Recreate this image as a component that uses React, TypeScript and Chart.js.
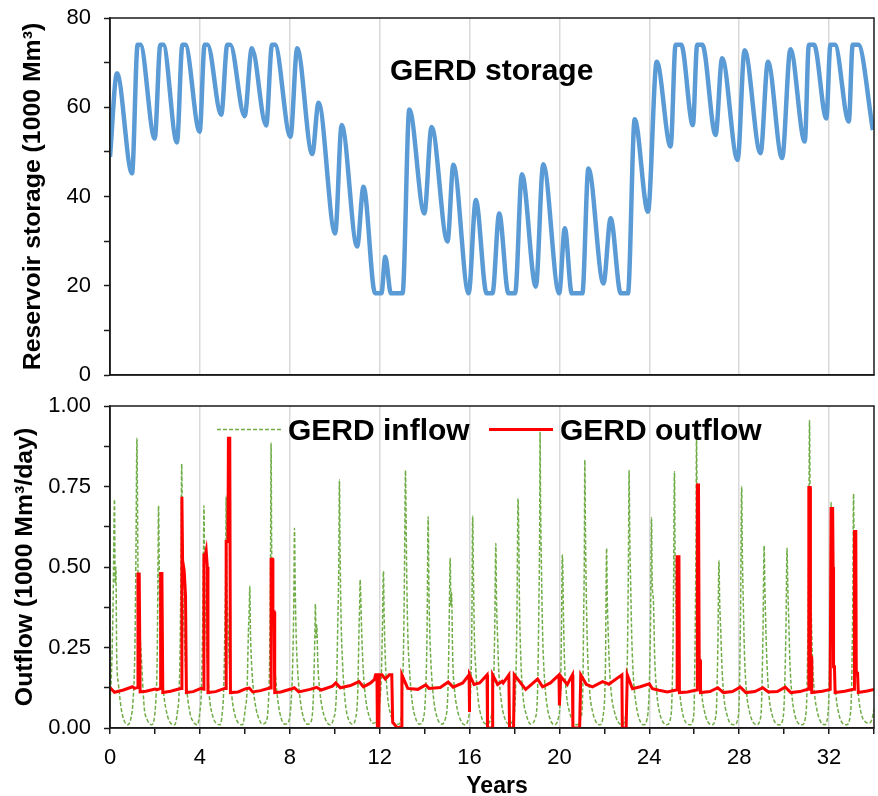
import React, { useEffect, useRef } from 'react';
import { Chart, registerables } from 'chart.js';

Chart.register(...registerables);

const FONT = "'Liberation Sans', Arial, Helvetica, sans-serif";

// ---- Text ----
const storageLabel = 'GERD storage';
const storageAxisTitle = 'Reservoir storage (1000 Mm³)';
const flowAxisTitle = 'Outflow (1000 Mm³/day)';
const xAxisTitle = 'Years';
const inflowLabel = 'GERD inflow';
const outflowLabel = 'GERD outflow';

// ---- Tick labels ----
const yearTickLabels = [0, 4, 8, 12, 16, 20, 24, 28, 32];
const storageTickLabels = [0, 20, 40, 60, 80];
const flowTickLabels = [0, 0.25, 0.5, 0.75, 1.0];

// ---- Storage (year, 1000 Mm3) ----
const storagePoints: [number, number][] = [
  [0, 48.9], [0.31, 67.6], [0.98, 45.2], [1.23, 74], [1.35, 74], [1.99, 53.0],
  [2.24, 74], [2.37, 74], [2.98, 52.1], [3.22, 74], [3.35, 74], [3.99, 54.5],
  [4.21, 74], [4.34, 74], [4.95, 58.3], [5.22, 74], [5.35, 74], [5.99, 58.0],
  [6.31, 73.2], [6.95, 55.9], [7.21, 74], [7.34, 74], [8.03, 53.4], [8.33, 73.2],
  [9.0, 49.5], [9.28, 61.0], [10.02, 31.7], [10.31, 56.0], [11.0, 28.8], [11.28, 42.2],
  [11.8, 18.3], [12.08, 18.3], [12.25, 26.5], [12.5, 18.3], [13.02, 18.3], [13.32, 59.5],
  [13.99, 36.2], [14.31, 55.6], [15.02, 29.9], [15.28, 47.1], [15.96, 18.3], [16.28, 39.2],
  [16.76, 18.3], [17.02, 18.3], [17.32, 36.2], [17.73, 18.3], [18.03, 18.3], [18.33, 45.0],
  [18.95, 19.8], [19.28, 47.2], [19.99, 18.3], [20.24, 32.9], [20.55, 18.3], [21.02, 18.3],
  [21.29, 46.3], [21.96, 20.5], [22.28, 35.1], [22.73, 18.3], [23.05, 18.3], [23.35, 57.3],
  [23.94, 36.6], [24.33, 70.2], [24.95, 51.2], [25.17, 74], [25.42, 74], [25.94, 56.0],
  [26.13, 74], [26.36, 74], [26.95, 53.8], [27.24, 71.0], [27.93, 48.2], [28.24, 72.8],
  [28.95, 49.7], [29.28, 70.2], [29.91, 48.6], [30.28, 73.0], [30.92, 52.3], [31.1, 74],
  [31.33, 74], [31.88, 57.5], [32.06, 74], [32.26, 74], [32.88, 56.8], [33.05, 74],
  [33.3, 74], [33.95, 54.9],
];

// ---- Inflow (year, 1000 Mm3/day) ----
const inflowPoints: [number, number][] = [
  [0, 0.08], [0.08, 0.2], [0.14, 0.4], [0.2, 0.71], [0.23, 0.45], [0.26, 0.5], [0.3, 0.22], [0.37, 0.14], [0.5, 0.06], [0.62, 0.025], [0.78, 0.01], [0.93, 0.03],
  [1.03, 0.09], [1.1, 0.22], [1.15, 0.5], [1.2, 0.9], [1.22, 0.74], [1.25, 0.45], [1.3, 0.32], [1.37, 0.25], [1.52, 0.066], [1.66, 0.025], [1.85, 0.01], [1.99, 0.04],
  [2.05, 0.1], [2.1, 0.22], [2.13, 0.45], [2.16, 0.69], [2.19, 0.5], [2.22, 0.33], [2.28, 0.2], [2.4, 0.1], [2.55, 0.04], [2.7, 0.015], [2.88, 0.01], [3.0, 0.05],
  [3.08, 0.12], [3.13, 0.3], [3.17, 0.6], [3.19, 0.82], [3.21, 0.72], [3.24, 0.45], [3.3, 0.3], [3.4, 0.14], [3.55, 0.05], [3.7, 0.02], [3.88, 0.01], [4.0, 0.05],
  [4.07, 0.12], [4.12, 0.3], [4.16, 0.55], [4.18, 0.69], [4.21, 0.5], [4.25, 0.35], [4.3, 0.25], [4.42, 0.1], [4.56, 0.04], [4.72, 0.015], [4.9, 0.01], [5.0, 0.05],
  [5.06, 0.12], [5.11, 0.3], [5.15, 0.5], [5.17, 0.72], [5.2, 0.45], [5.24, 0.35], [5.3, 0.22], [5.42, 0.1], [5.56, 0.04], [5.72, 0.015], [5.9, 0.01], [6.02, 0.06],
  [6.1, 0.12], [6.16, 0.3], [6.2, 0.38], [6.22, 0.44], [6.25, 0.3], [6.3, 0.2], [6.38, 0.12], [6.5, 0.06], [6.62, 0.03], [6.78, 0.012], [6.95, 0.02], [7.05, 0.08],
  [7.1, 0.2], [7.14, 0.45], [7.17, 0.885], [7.19, 0.6], [7.22, 0.45], [7.27, 0.3], [7.35, 0.18], [7.48, 0.08], [7.62, 0.03], [7.78, 0.012], [7.95, 0.02], [8.06, 0.08],
  [8.13, 0.2], [8.18, 0.4], [8.21, 0.62], [8.24, 0.45], [8.28, 0.3], [8.35, 0.18], [8.48, 0.08], [8.62, 0.03], [8.78, 0.012], [8.95, 0.02], [9.04, 0.08],
  [9.09, 0.2], [9.12, 0.3], [9.14, 0.385], [9.17, 0.28], [9.2, 0.32], [9.25, 0.2], [9.33, 0.12], [9.45, 0.06], [9.6, 0.025], [9.78, 0.01], [9.95, 0.03], [10.07, 0.1],
  [10.13, 0.3], [10.18, 0.5], [10.21, 0.77], [10.24, 0.55], [10.28, 0.35], [10.35, 0.2], [10.47, 0.08], [10.6, 0.03], [10.78, 0.012], [10.93, 0.03], [11.03, 0.12],
  [11.08, 0.3], [11.11, 0.38], [11.13, 0.46], [11.15, 0.43], [11.2, 0.3], [11.27, 0.18], [11.38, 0.09], [11.52, 0.04], [11.7, 0.015], [11.88, 0.02], [12.0, 0.08],
  [12.07, 0.15], [12.12, 0.3], [12.17, 0.487], [12.2, 0.35], [12.26, 0.2], [12.35, 0.1], [12.5, 0.04], [12.66, 0.015], [12.85, 0.012], [12.98, 0.05],
  [13.05, 0.2], [13.1, 0.45], [13.13, 0.7], [13.15, 0.8], [13.17, 0.7], [13.2, 0.5], [13.25, 0.3], [13.33, 0.18], [13.45, 0.08], [13.6, 0.03], [13.78, 0.012], [13.95, 0.03],
  [14.05, 0.12], [14.11, 0.3], [14.16, 0.656], [14.19, 0.45], [14.23, 0.3], [14.3, 0.18], [14.42, 0.08], [14.57, 0.03], [14.75, 0.012], [14.93, 0.03],
  [15.04, 0.12], [15.09, 0.3], [15.14, 0.527], [15.17, 0.38], [15.2, 0.42], [15.25, 0.22], [15.33, 0.12], [15.45, 0.06], [15.6, 0.025], [15.78, 0.01], [15.95, 0.03],
  [16.05, 0.12], [16.1, 0.3], [16.14, 0.658], [16.17, 0.5], [16.21, 0.3], [16.28, 0.18], [16.4, 0.08], [16.55, 0.03], [16.75, 0.012], [16.95, 0.03],
  [17.06, 0.12], [17.12, 0.3], [17.17, 0.573], [17.2, 0.4], [17.24, 0.3], [17.3, 0.18], [17.42, 0.08], [17.57, 0.03], [17.75, 0.012], [17.95, 0.03],
  [18.05, 0.12], [18.11, 0.35], [18.16, 0.713], [18.19, 0.6], [18.22, 0.4], [18.28, 0.22], [18.38, 0.1], [18.53, 0.04], [18.72, 0.012], [18.92, 0.03],
  [19.03, 0.12], [19.09, 0.4], [19.12, 0.6], [19.14, 0.92], [19.16, 0.72], [19.2, 0.5], [19.25, 0.3], [19.33, 0.16], [19.45, 0.07], [19.6, 0.025], [19.78, 0.01], [19.95, 0.03],
  [20.05, 0.12], [20.09, 0.3], [20.13, 0.537], [20.15, 0.5], [20.18, 0.35], [20.23, 0.2], [20.32, 0.1], [20.45, 0.05], [20.6, 0.02], [20.78, 0.01], [20.95, 0.03],
  [21.04, 0.12], [21.08, 0.35], [21.11, 0.55], [21.13, 0.832], [21.16, 0.6], [21.2, 0.4], [21.26, 0.22], [21.35, 0.11], [21.48, 0.05], [21.62, 0.02], [21.8, 0.01], [21.95, 0.04],
  [22.05, 0.2], [22.1, 0.558], [22.13, 0.4], [22.17, 0.3], [22.22, 0.2], [22.32, 0.1], [22.45, 0.05], [22.6, 0.02], [22.78, 0.01], [22.95, 0.04],
  [23.04, 0.3], [23.08, 0.6], [23.1, 0.8], [23.13, 0.6], [23.17, 0.45], [23.22, 0.28], [23.3, 0.15], [23.42, 0.07], [23.57, 0.025], [23.75, 0.01], [23.93, 0.04],
  [24.05, 0.3], [24.1, 0.653], [24.13, 0.45], [24.18, 0.4], [24.24, 0.22], [24.32, 0.12], [24.45, 0.05], [24.6, 0.02], [24.78, 0.01], [24.97, 0.04],
  [25.07, 0.35], [25.12, 0.796], [25.15, 0.5], [25.2, 0.35], [25.27, 0.2], [25.37, 0.1], [25.5, 0.04], [25.65, 0.015], [25.82, 0.01], [25.98, 0.04],
  [26.05, 0.35], [26.08, 0.6], [26.1, 0.912], [26.13, 0.65], [26.17, 0.4], [26.24, 0.22], [26.33, 0.11], [26.46, 0.05], [26.6, 0.02], [26.78, 0.01], [26.97, 0.04],
  [27.05, 0.25], [27.1, 0.52], [27.13, 0.4], [27.18, 0.3], [27.24, 0.18], [27.33, 0.09], [27.46, 0.04], [27.6, 0.015], [27.78, 0.01], [27.97, 0.04],
  [28.06, 0.35], [28.11, 0.75], [28.14, 0.55], [28.18, 0.4], [28.24, 0.22], [28.33, 0.11], [28.46, 0.05], [28.6, 0.02], [28.78, 0.01], [28.97, 0.04],
  [29.06, 0.3], [29.11, 0.566], [29.14, 0.45], [29.19, 0.3], [29.25, 0.18], [29.34, 0.09], [29.47, 0.04], [29.62, 0.015], [29.8, 0.01], [29.97, 0.04],
  [30.08, 0.3], [30.13, 0.558], [30.16, 0.45], [30.2, 0.35], [30.26, 0.2], [30.35, 0.1], [30.48, 0.04], [30.63, 0.015], [30.8, 0.01], [30.98, 0.05],
  [31.06, 0.3], [31.1, 0.6], [31.13, 0.955], [31.16, 0.65], [31.2, 0.4], [31.26, 0.22], [31.35, 0.11], [31.48, 0.05], [31.62, 0.02], [31.8, 0.01], [31.96, 0.05],
  [32.05, 0.35], [32.09, 0.7], [32.12, 0.5], [32.16, 0.35], [32.22, 0.2], [32.31, 0.1], [32.45, 0.04], [32.6, 0.015], [32.78, 0.01], [32.96, 0.05],
  [33.05, 0.35], [33.09, 0.727], [33.12, 0.5], [33.16, 0.35], [33.22, 0.2], [33.31, 0.1], [33.45, 0.04], [33.6, 0.02], [33.78, 0.015], [33.92, 0.03], [34.0, 0.06],
];

// ---- Outflow (year, 1000 Mm3/day) ----
const outflowPoints: [number, number][] = [
  [0, 0.125], [0.05, 0.122], [0.2, 0.111], [0.6, 0.118], [1.0, 0.128], [1.1, 0.123], [1.24, 0.126],
  [1.245, 0.478], [1.3, 0.478], [1.34, 0.112], [1.6, 0.114], [2.0, 0.121], [2.1, 0.119], [2.25, 0.123],
  [2.255, 0.48], [2.31, 0.48], [2.35, 0.11], [2.7, 0.114], [3.1, 0.122], [3.195, 0.123],
  [3.2, 0.718], [3.23, 0.52], [3.3, 0.49], [3.36, 0.413], [3.4, 0.11], [3.7, 0.113], [4.05, 0.123], [4.175, 0.12],
  [4.18, 0.537], [4.24, 0.537], [4.28, 0.551], [4.33, 0.5], [4.36, 0.11], [4.7, 0.113], [5.1, 0.123], [5.165, 0.123],
  [5.17, 0.579], [5.25, 0.579], [5.27, 0.9], [5.33, 0.9], [5.36, 0.11], [5.7, 0.112], [6.05, 0.122], [6.2, 0.124],
  [6.35, 0.112], [6.7, 0.116], [7.1, 0.124], [7.165, 0.124],
  [7.17, 0.524], [7.24, 0.524], [7.25, 0.361], [7.3, 0.361], [7.33, 0.11], [7.6, 0.112], [8.05, 0.121], [8.2, 0.125],
  [8.4, 0.112], [8.9, 0.12], [9.2, 0.126], [9.4, 0.118], [9.9, 0.13], [10.05, 0.14], [10.25, 0.125], [10.7, 0.132],
  [11.08, 0.144], [11.28, 0.128], [11.6, 0.14], [11.77, 0.151], [11.82, 0.165], [11.88, 0.165], [11.9, 0.0],
  [11.93, 0.16], [11.96, 0.0], [11.99, 0.165], [12.1, 0.165], [12.25, 0.152], [12.43, 0.165], [12.54, 0.165],
  [12.58, 0.017], [12.8, 0.0], [12.97, 0.005], [12.99, 0.165], [13.25, 0.123], [13.7, 0.12], [14.05, 0.134],
  [14.2, 0.123], [14.7, 0.126], [15.05, 0.143], [15.27, 0.127], [15.7, 0.14], [15.98, 0.165], [15.99, 0.05],
  [16.01, 0.165], [16.2, 0.135], [16.45, 0.14], [16.78, 0.165], [16.8, 0.0], [17.0, 0.0], [17.03, 0.165],
  [17.25, 0.135], [17.45, 0.145], [17.5, 0.14], [17.75, 0.165], [17.78, 0.0], [17.96, 0.0], [17.99, 0.165],
  [18.5, 0.12], [19.03, 0.152], [19.25, 0.128], [19.6, 0.14], [19.98, 0.165], [20.0, 0.07], [20.06, 0.16],
  [20.35, 0.135], [20.58, 0.165], [20.6, 0.0], [20.9, 0.0], [20.95, 0.165], [21.2, 0.135], [21.47, 0.128],
  [21.92, 0.144], [22.07, 0.14], [22.2, 0.136], [22.78, 0.165], [22.8, 0.0], [22.97, 0.0], [23.02, 0.165],
  [23.25, 0.122], [23.6, 0.128], [24.0, 0.137], [24.14, 0.122], [24.43, 0.117], [24.8, 0.112], [25.2, 0.118], [25.235, 0.118],
  [25.24, 0.532], [25.32, 0.532], [25.34, 0.11], [25.7, 0.112], [26.1, 0.118], [26.135, 0.118],
  [26.14, 0.755], [26.19, 0.755], [26.22, 0.21], [26.26, 0.21], [26.28, 0.11], [26.7, 0.113], [27.05, 0.125],
  [27.3, 0.11], [27.7, 0.113], [28.05, 0.127], [28.3, 0.11], [28.7, 0.113], [29.05, 0.125], [29.3, 0.112],
  [29.7, 0.113], [30.05, 0.127], [30.3, 0.11], [30.7, 0.113], [31.05, 0.12], [31.095, 0.12],
  [31.1, 0.747], [31.16, 0.747], [31.17, 0.22], [31.21, 0.22], [31.23, 0.11], [31.7, 0.114], [32.05, 0.12], [32.085, 0.12],
  [32.09, 0.682], [32.16, 0.682], [32.18, 0.5], [32.2, 0.19], [32.24, 0.19], [32.27, 0.11], [32.7, 0.114], [33.08, 0.12], [33.125, 0.12],
  [33.13, 0.61], [33.19, 0.61], [33.21, 0.17], [33.27, 0.17], [33.3, 0.11], [33.7, 0.115], [34.0, 0.12],
];

const toXY = (pts: [number, number][]) => pts.map(([x, y]) => ({ x, y }));
const isIn = (list: number[], v: number) => list.some((t) => Math.abs(t - v) < 1e-9);

const GRID = '#d9d9d9';
const AXIS = '#1a1a1a';
const GREEN = '#70AD47';
const RED = '#FF0000';
const BLUE = '#5B9BD5';

function xGridColor(ctx: any) {
  const v = ctx.tick ? ctx.tick.value : 0;
  return v > 0 && v < 34 && Math.abs(v % 4) < 1e-9 ? GRID : 'rgba(0,0,0,0)';
}

function noVPad(s: any) {
  s.width = 110;
  s.paddingTop = 0;
  s.paddingBottom = 0;
}

function frame(ctx: CanvasRenderingContext2D, a: any) {
  ctx.strokeStyle = AXIS;
  ctx.lineWidth = 1.5;
  ctx.strokeRect(a.left, a.top, a.right - a.left, a.bottom - a.top);
}

function rotatedText(ctx: CanvasRenderingContext2D, text: string, cx: number, cy: number, font: string) {
  ctx.save();
  ctx.translate(cx, cy);
  ctx.rotate(-Math.PI / 2);
  ctx.font = font;
  ctx.fillStyle = '#000';
  ctx.textAlign = 'center';
  ctx.textBaseline = 'middle';
  ctx.fillText(text, 0, 0);
  ctx.restore();
}

const topDecor = {
  id: 'topDecor',
  afterDraw(chart: any) {
    const { ctx, chartArea } = chart;
    ctx.save();
    frame(ctx, chartArea);
    ctx.fillStyle = '#000';
    ctx.font = `bold 30px ${FONT}`;
    ctx.textAlign = 'left';
    ctx.textBaseline = 'alphabetic';
    ctx.fillText(storageLabel, 390, 80);
    ctx.restore();
    rotatedText(ctx, storageAxisTitle, 33, 196.5, `bold 24.8px ${FONT}`);
  },
};

const bottomDecor = {
  id: 'bottomDecor',
  afterDraw(chart: any) {
    const { ctx, chartArea } = chart;
    ctx.save();
    frame(ctx, chartArea);
    // legend
    ctx.strokeStyle = GREEN;
    ctx.lineWidth = 1.5;
    ctx.setLineDash([4, 2]);
    ctx.beginPath();
    ctx.moveTo(217, 39.5);
    ctx.lineTo(282, 39.5);
    ctx.stroke();
    ctx.setLineDash([]);
    ctx.strokeStyle = RED;
    ctx.lineWidth = 3;
    ctx.beginPath();
    ctx.moveTo(489, 39.5);
    ctx.lineTo(553, 39.5);
    ctx.stroke();
    ctx.fillStyle = '#000';
    ctx.font = `bold 30px ${FONT}`;
    ctx.textAlign = 'left';
    ctx.textBaseline = 'alphabetic';
    ctx.fillText(inflowLabel, 288, 50);
    ctx.fillText(outflowLabel, 560, 50);
    ctx.font = `bold 23px ${FONT}`;
    ctx.textAlign = 'center';
    ctx.fillText(xAxisTitle, 497, 403);
    ctx.restore();
    rotatedText(ctx, flowAxisTitle, 25, 177, `bold 24.8px ${FONT}`);
  },
};

export default function App() {
  const topRef = useRef<HTMLCanvasElement | null>(null);
  const botRef = useRef<HTMLCanvasElement | null>(null);

  useEffect(() => {
    Chart.defaults.font.family = FONT;
    Chart.defaults.color = '#000';

    const tickFont = { family: FONT, size: 22 };

    const top = new Chart(topRef.current as HTMLCanvasElement, {
      type: 'line',
      data: {
        datasets: [
          {
            label: storageLabel,
            data: toXY(storagePoints),
            borderColor: BLUE,
            borderWidth: 4.5,
            pointRadius: 0,
            fill: false,
            cubicInterpolationMode: 'monotone',
          },
        ],
      },
      options: {
        responsive: false,
        animation: false,
        events: [],
        layout: { padding: { top: 18, right: 4, left: 0, bottom: 0 }, autoPadding: false } as any,
        plugins: { legend: { display: false }, tooltip: { enabled: false } },
        scales: {
          x: {
            type: 'linear',
            min: 0,
            max: 34,
            ticks: { stepSize: 2, display: false, autoSkip: false },
            grid: { color: xGridColor, lineWidth: 1.5, drawTicks: false },
            border: { color: AXIS, width: 1.5 },
            afterFit: (s: any) => { s.height = 15; s.paddingLeft = 0; s.paddingRight = 0; },
          },
          y: {
            min: 0,
            max: 80,
            ticks: {
              stepSize: 10,
              autoSkip: false,
              font: tickFont,
              color: '#000',
              padding: 13,
              callback: (v: any) => (isIn(storageTickLabels, Number(v)) ? String(v) : ''),
            },
            grid: { drawOnChartArea: false, drawTicks: true, tickLength: 6, tickColor: AXIS, tickWidth: 1.5 },
            border: { color: AXIS, width: 1.5 },
            afterFit: noVPad,
          },
        },
      },
      plugins: [topDecor],
    } as any);

    const bottom = new Chart(botRef.current as HTMLCanvasElement, {
      type: 'line',
      data: {
        datasets: [
          {
            label: outflowLabel,
            data: toXY(outflowPoints),
            borderColor: RED,
            borderWidth: 3,
            pointRadius: 0,
            fill: false,
            tension: 0,
          },
          {
            label: inflowLabel,
            data: toXY(inflowPoints),
            borderColor: GREEN,
            borderWidth: 1.5,
            borderDash: [4, 2],
            pointRadius: 0,
            fill: false,
            cubicInterpolationMode: 'monotone',
          },
        ],
      },
      options: {
        responsive: false,
        animation: false,
        events: [],
        layout: { padding: { top: 16, right: 4, left: 0, bottom: 0 }, autoPadding: false } as any,
        plugins: { legend: { display: false }, tooltip: { enabled: false } },
        scales: {
          x: {
            type: 'linear',
            min: 0,
            max: 34,
            ticks: {
              stepSize: 2,
              autoSkip: false,
              maxRotation: 0,
              font: tickFont,
              color: '#000',
              padding: 11,
              callback: (v: any) => (isIn(yearTickLabels, Number(v)) ? String(v) : ''),
            },
            grid: { color: xGridColor, lineWidth: 1.5, drawTicks: true, tickLength: 6, tickColor: AXIS, tickWidth: 1.5 },
            border: { color: AXIS, width: 1.5 },
            afterFit: (s: any) => { s.height = 68; s.paddingLeft = 0; s.paddingRight = 0; },
          },
          y: {
            min: 0,
            max: 1,
            ticks: {
              stepSize: 0.125,
              autoSkip: false,
              font: tickFont,
              color: '#000',
              padding: 13,
              callback: (v: any) => (isIn(flowTickLabels, Number(v)) ? Number(v).toFixed(2) : ''),
            },
            grid: { drawOnChartArea: false, drawTicks: true, tickLength: 6, tickColor: AXIS, tickWidth: 1.5 },
            border: { color: AXIS, width: 1.5 },
            afterFit: noVPad,
          },
        },
      },
      plugins: [bottomDecor],
    } as any);

    return () => {
      top.destroy();
      bottom.destroy();
    };
  }, []);

  return (
    <div style={{ position: 'absolute', left: 0, top: 0, width: 878, height: 796, background: '#fff', overflow: 'hidden' }}>
      <canvas ref={topRef} width={878} height={390} style={{ position: 'absolute', left: 0, top: 0, width: 878, height: 390 }} />
      <canvas ref={botRef} width={878} height={406} style={{ position: 'absolute', left: 0, top: 390, width: 878, height: 406 }} />
    </div>
  );
}
